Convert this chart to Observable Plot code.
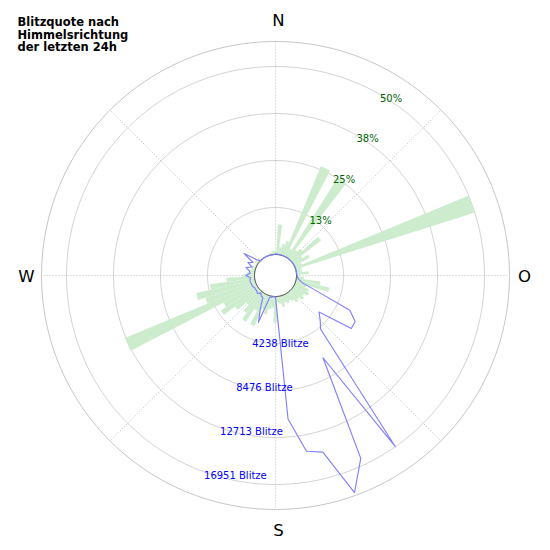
<!DOCTYPE html>
<html>
<head>
<meta charset="utf-8">
<script src="https://cdn.jsdelivr.net/npm/d3@7"></script>
<script src="https://cdn.jsdelivr.net/npm/@observablehq/plot@0.6"></script>
<style>
  body { margin: 0; background: #fff; }
  #chart svg { display: block; }
</style>
</head>
<body>
<div id="chart"></div>
<script>
// ---- data (compass bins of 5°) ----
const directions = [0,5,10,15,20,25,30,35,40,45,50,55,60,65,70,75,80,85,
  90,95,100,105,110,115,120,125,130,135,140,145,150,155,160,165,170,175,
  180,185,190,195,200,205,210,215,220,225,230,235,240,245,250,255,260,265,
  270,275,280,285,290,295,300,305,310,315,320,325,330,335,340,345,350,355];

// Blitzquote in % per direction
const quote = [1.0,8.0,2.0,3.0,4.0,25.9,2.5,25.3,3.0,4.0,9.7,3.0,4.7,2.0,49.9,1.5,1.5,3.3,
  1.0,2.0,6.5,9.1,3.0,4.0,4.5,3.5,4.0,3.0,3.5,2.5,2.0,2.5,2.0,3.0,2.0,1.5,
  7.0,3.0,3.5,5.0,4.0,9.0,5.0,9.0,7.0,5.0,8.0,11.7,10.0,37.8,14.0,16.0,12.0,7.5,
  3.0,2.0,1.5,1.0,1.0,0.5,0.5,1.0,0.5,0.3,0.3,0.3,0.3,0.3,0.3,0.5,0.5,1.0];

// Number of strikes (Blitze) per direction
const blitze = [50,50,30,30,30,30,30,30,30,30,30,30,30,30,30,30,30,30,
  60,100,250,600,1830,5500,6400,6450,3230,3800,4440,16951,6670,16300,18935,14590,14200,11090,
  60,30,100,150,2600,1300,400,360,150,400,300,300,300,400,400,450,450,360,
  780,400,500,860,350,850,450,1570,300,0,0,0,0,0,0,0,0,0];

const quoteTicks = [12.5, 25, 37.5, 50];
const quoteTickLabels = ["13%", "25%", "38%", "50%"];
const blitzeTicks = [4238, 8476, 12713, 16951];
const blitzeTickLabels = ["4238 Blitze", "8476 Blitze", "12713 Blitze", "16951 Blitze"];
const compassNS = ["N", "S"];
const compassNSAngles = [0, 180];
const compassWO = ["O", "W"];
const compassWOAngles = [90, 270];
const spokeAngles = [0, 45, 90, 135, 180, 225, 270, 315];
const titleText = "Blitzquote nach\nHimmelsrichtung\nder letzten 24h";

// ---- polar helpers (radial unit = quote %) ----
const PXU = 47 / 12.5;          // pixels per % unit
const HOLE = 21 / PXU;          // radial origin offset
const RMAX = 234 / PXU - HOLE;  // outer radial limit
const R = HOLE + RMAX;
const blitzePerUnit = 4238 / 12.5;
const rad = d => d * Math.PI / 180;
const px = (deg, r) => (HOLE + r) * Math.sin(rad(deg));
const py = (deg, r) => (HOLE + r) * Math.cos(rad(deg));

// bars as wedge polygons
const barPts = directions.flatMap((a, i) => {
  const pts = [];
  for (let k = 0; k <= 5; k++) { const t = a - 2.5 + k; pts.push({bin: i, x: px(t, quote[i]), y: py(t, quote[i])}); }
  for (let k = 5; k >= 0; k--) { const t = a - 2.5 + k; pts.push({bin: i, x: px(t, 0), y: py(t, 0)}); }
  return pts;
});

const circlePts = (r, key) => d3.range(0, 361, 2).map(t => ({ring: key, x: px(t, r), y: py(t, r)}));
const ringPts = quoteTicks.flatMap(r => circlePts(r, r));
const outerPts = circlePts(RMAX, "outer");
const holePts = circlePts(0, "hole");

const linePts = directions.map((a, i) => ({x: px(a, blitze[i] / blitzePerUnit), y: py(a, blitze[i] / blitzePerUnit)}));

const rNS = 255 / PXU - HOLE;
const rWO = 249 / PXU - HOLE;

const chart = Plot.plot({
  width: 550,
  height: 550,
  marginLeft: 41, marginRight: 41, marginTop: 41, marginBottom: 41,
  x: {domain: [-R, R], axis: null},
  y: {domain: [-R, R], axis: null},
  style: {fontFamily: "'DejaVu Sans', sans-serif", background: "#fff"},
  marks: [
    Plot.line(ringPts, {x: "x", y: "y", z: "ring", stroke: "#c8c8c8", strokeWidth: 0.8}),
    Plot.line(outerPts, {x: "x", y: "y", stroke: "#b8b8b8", strokeWidth: 0.8}),
    Plot.link(spokeAngles, {
      x1: a => px(a, 0), y1: a => py(a, 0),
      x2: a => px(a, RMAX), y2: a => py(a, RMAX),
      stroke: "#b0b0b0", strokeWidth: 0.8, strokeDasharray: "1,2"
    }),
    Plot.line(barPts, {x: "x", y: "y", z: "bin", fill: "#cdeccd", stroke: "none", curve: "linear-closed"}),
    Plot.line(holePts, {x: "x", y: "y", stroke: "#222", strokeWidth: 0.9, fill: "white"}),
    Plot.line(linePts, {x: "x", y: "y", stroke: "#8080ff", strokeWidth: 1.15, curve: "linear-closed"}),
    Plot.text(quoteTicks, {
      x: t => px(30, t), y: t => py(30, t),
      text: (t, i) => quoteTickLabels[i],
      textAnchor: "start", lineAnchor: "top", fill: "darkgreen", fontSize: 10
    }),
    Plot.text(blitzeTicks, {
      x: t => px(200, t / blitzePerUnit), y: t => py(200, t / blitzePerUnit),
      text: (t, i) => blitzeTickLabels[i],
      textAnchor: "start", lineAnchor: "top", fill: "blue", fontSize: 10
    }),
    Plot.text(compassNSAngles, {
      x: a => px(a, rNS), y: a => py(a, rNS),
      text: (a, i) => compassNS[i], dx: 3,
      textAnchor: "middle", lineAnchor: "middle", fill: "black", fontSize: 16.5
    }),
    Plot.text(compassWOAngles, {
      x: a => px(a, rWO), y: a => py(a, rWO),
      text: (a, i) => compassWO[i], dy: 1.5,
      textAnchor: "middle", lineAnchor: "middle", fill: "black", fontSize: 16.5
    }),
    Plot.text([titleText], {
      text: d => d, frameAnchor: "top-left", dx: -24, dy: -25,
      textAnchor: "start", lineAnchor: "top", fontWeight: "bold", fontSize: 11.5,
      lineHeight: 1.12, fill: "black"
    })
  ]
});
document.getElementById("chart").appendChild(chart);
</script>
</body>
</html>
